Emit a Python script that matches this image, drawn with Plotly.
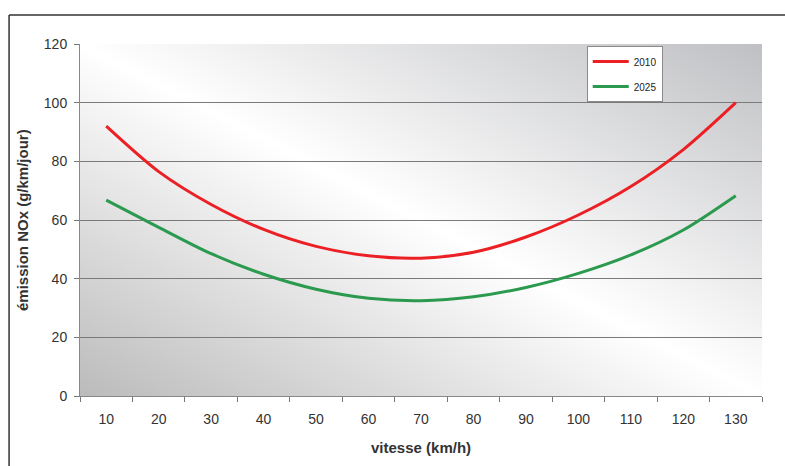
import base64
import plotly.graph_objects as go

# Vitesse (km/h) et émissions de NOx (g/km/jour)
vitesses = ["10", "20", "30", "40", "50", "60", "70", "80", "90", "100", "110", "120", "130"]
nox_2010 = [92.0, 76.5, 65.3, 56.8, 51.0, 47.8, 47.0, 49.0, 54.2, 61.7, 71.4, 84.0, 100.0]
nox_2025 = [66.8, 57.5, 48.5, 41.5, 36.4, 33.3, 32.5, 33.8, 37.0, 41.8, 48.1, 56.6, 68.3]
y_ticks = [0, 20, 40, 60, 80, 100, 120]

FONT = "Liberation Sans, Arial, sans-serif"

# Fond dégradé diagonal de la zone de tracé
svg = """<svg xmlns='http://www.w3.org/2000/svg' width='682' height='352' preserveAspectRatio='none'>
<defs><linearGradient id='g' x1='1' y1='0' x2='0' y2='1'>
<stop offset='0' stop-color='#bfc0c3'/>
<stop offset='0.5' stop-color='#ffffff'/>
<stop offset='1' stop-color='#bbbbbb'/>
</linearGradient></defs>
<rect width='682' height='352' fill='url(#g)'/></svg>"""
bg_src = "data:image/svg+xml;base64," + base64.b64encode(svg.encode()).decode()

fig = go.Figure()
fig.add_trace(go.Scatter(x=vitesses, y=nox_2010, mode="lines", name="2010",
                         line=dict(color="#ec2024", width=3, shape="spline", smoothing=0.8),
                         legendgroup="a"))
fig.add_trace(go.Scatter(x=vitesses, y=nox_2025, mode="lines", name="2025",
                         line=dict(color="#2b9a4e", width=3, shape="spline", smoothing=0.8),
                         legendgroup="b"))

fig.update_layout(
    width=785, height=466,
    margin=dict(l=80, r=23, t=44, b=70),
    paper_bgcolor="white",
    plot_bgcolor="rgba(0,0,0,0)",
    font=dict(family=FONT, size=14, color="#333333"),
    showlegend=True,
    legend=dict(x=0.743, y=0.994, xanchor="left", yanchor="top",
                bgcolor="white", bordercolor="#8a8a8a", borderwidth=1,
                font=dict(size=10, color="#222222"), tracegroupgap=6,
                itemwidth=36),
    images=[dict(source=bg_src, xref="paper", yref="paper", x=0, y=1,
                 sizex=1, sizey=1, sizing="stretch", layer="below")],
    shapes=[
        # cadre extérieur
        dict(type="line", xref="paper", yref="paper", x0=-0.104, x1=1.04, y0=1.0824, y1=1.0824,
             line=dict(color="#333333", width=1.5)),
        dict(type="line", xref="paper", yref="paper", x0=-0.104, x1=-0.104, y0=1.0824, y1=-0.22,
             line=dict(color="#333333", width=1.5)),
    ],
    annotations=[
        dict(text="<b>émission NOx (g/km/jour)</b>", xref="paper", yref="paper",
             x=-0.085, y=0.5, textangle=-90, showarrow=False,
             xanchor="center", yanchor="middle",
             font=dict(size=15, color="#333333")),
        dict(text="<b>vitesse (km/h)</b>", xref="paper", yref="paper",
             x=0.5, y=-0.145, showarrow=False, xanchor="center", yanchor="middle",
             font=dict(size=15, color="#333333")),
    ],
)

fig.update_xaxes(type="category", range=[-0.5, 12.5], tickson="boundaries",
                 ticks="outside", ticklen=5,
                 tickcolor="#777777", showline=True, linecolor="#888888", linewidth=1,
                 showgrid=False, ticklabelstandoff=10)
fig.update_yaxes(range=[0, 120], tickvals=y_ticks, ticks="outside", ticklen=5,
                 tickcolor="#777777", showline=True, linecolor="#888888", linewidth=1,
                 showgrid=True, gridcolor="#7a7a7a", gridwidth=1, zeroline=False,
                 ticklabelstandoff=4)

fig.write_html("out.html")
